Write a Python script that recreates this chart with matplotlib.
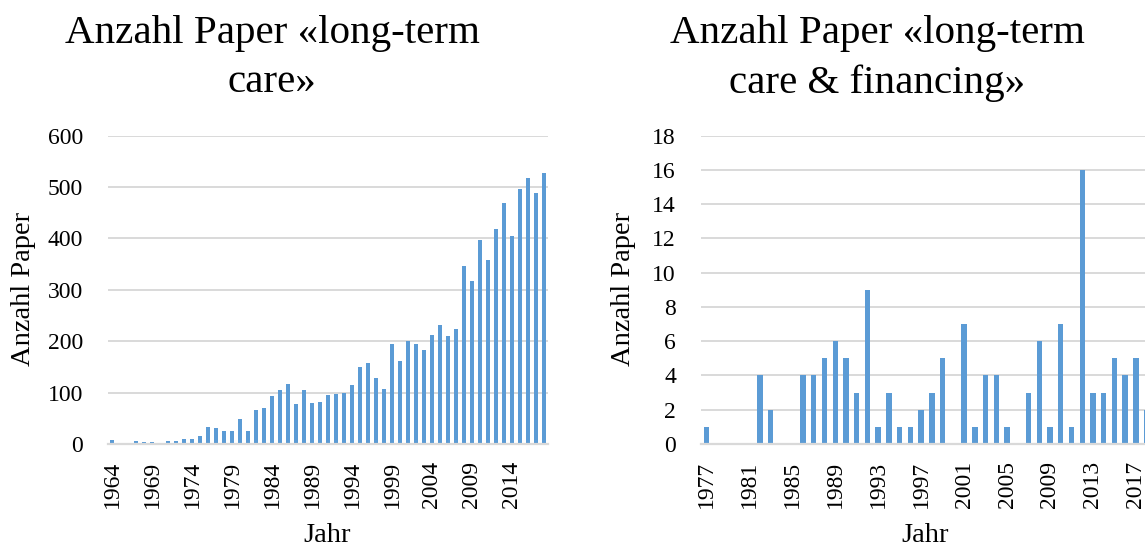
#!/usr/bin/env python
"""Two bar charts: number of papers per year on long-term care (and financing)."""

import matplotlib.pyplot as plt
import numpy as np

# Left chart: "long-term care", 1964-2018
years_ltc = list(range(1964, 2019))
papers_ltc = [
    8, 0, 0, 5, 3, 3, 0, 5, 5, 10,
    10, 16, 34, 32, 26, 25, 49, 25, 66, 71,
    94, 105, 116, 78, 105, 80, 82, 95, 97, 99,
    114, 150, 157, 128, 108, 195, 162, 200, 194, 182,
    212, 232, 210, 223, 346, 318, 397, 359, 419, 469,
    405, 497, 518, 489, 527,
]

# Right chart: "long-term care & financing", 1977-2018
years_fin = list(range(1977, 2019))
papers_fin = [
    1, 0, 0, 0, 0, 4, 2, 0, 0, 4,
    4, 5, 6, 5, 3, 9, 1, 3, 1, 1,
    2, 3, 5, 0, 7, 1, 4, 4, 1, 0,
    3, 6, 1, 7, 1, 16, 3, 3, 5, 4,
    5, 2,
]

BAR_COLOR = "#5b9bd5"
GRID_COLOR = "#d9d9d9"
FONT = ["Liberation Serif", "DejaVu Serif"]


def draw_bars(ax, years, values, ymax, ystep, label_step, width):
    """Excel-like column chart on a category axis."""
    x = np.arange(len(years))
    ax.bar(x, values, width=width, color=BAR_COLOR, zorder=2)
    ax.set_xlim(-0.5, len(years) - 0.5)
    ax.set_ylim(0, ymax)
    ax.set_yticks(np.arange(0, ymax + ystep, ystep))
    ax.set_xticks(x[::label_step])
    ax.set_xticklabels([str(y) for y in years[::label_step]], rotation=90,
                       family=FONT, fontsize=17)
    for lbl in ax.get_yticklabels():
        lbl.set_family(FONT)
        lbl.set_fontsize(17)
    ax.grid(axis="y", color=GRID_COLOR, linewidth=1.4, zorder=0)
    for side in ("left", "right", "top"):
        ax.spines[side].set_visible(False)
    ax.spines["bottom"].set_color(GRID_COLOR)
    ax.spines["bottom"].set_linewidth(1.6)
    ax.tick_params(axis="both", length=0)
    ax.tick_params(axis="y", pad=18)
    ax.tick_params(axis="x", pad=12)


def main():
    fig = plt.figure(figsize=(11.45, 5.49), dpi=100)
    W, H = 1145, 549

    # axes placed in pixel coordinates of the reference
    ax1 = fig.add_axes([108 / W, 1 - 444 / H, 440 / W, 308.3 / H])
    ax2 = fig.add_axes([701 / W, 1 - 444 / H, 451 / W, 308.3 / H])

    draw_bars(ax1, years_ltc, papers_ltc, 600, 100, 5, 0.55)
    draw_bars(ax2, years_fin, papers_fin, 18, 2, 4, 0.5)

    # titles, axis labels
    for cx, lines in ((272, ["Anzahl Paper «long-term", "care»"]),
                      (877, ["Anzahl Paper «long-term", "care & financing»"])):
        fig.text(cx / W, 1 - 33 / H, lines[0], ha="center", va="center",
                 family=FONT, fontsize=29.5)
        fig.text(cx / W, 1 - 83 / H, lines[1], ha="center", va="center",
                 family=FONT, fontsize=29.5)

    for x in (24, 624):
        fig.text(x / W, 1 - 289 / H, "Anzahl Paper", rotation=90,
                 ha="center", va="center", family=FONT, fontsize=20.5)
    for x in (327, 925):
        fig.text(x / W, 1 - 535 / H, "Jahr", ha="center", va="center",
                 family=FONT, fontsize=20.5)

    fig.savefig("out.png", dpi=100)


if __name__ == "__main__":
    main()
